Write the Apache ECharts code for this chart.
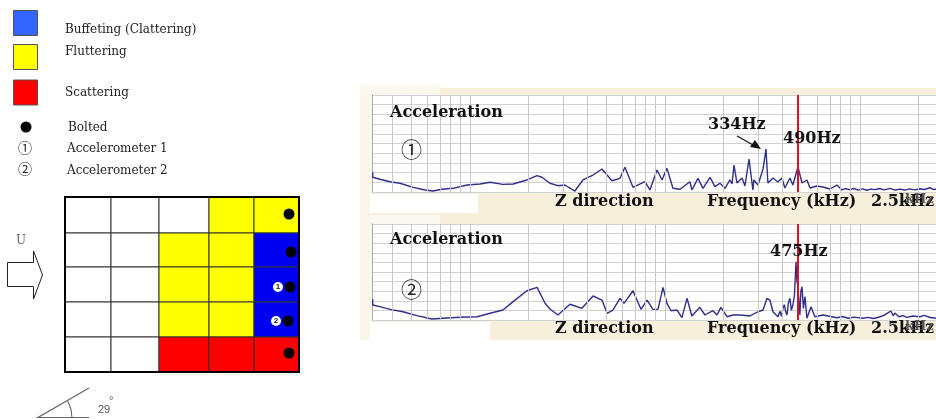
<!DOCTYPE html>
<html>
<head>
<meta charset="utf-8">
<style>
  html, body { margin: 0; padding: 0; background: #fff; }
  #chart { width: 936px; height: 419px; }
</style>
<script src="https://cdn.jsdelivr.net/npm/echarts@6/dist/echarts.min.js"></script>
</head>
<body>
<div id="chart"></div>
<script>
// plate map: cell edges, and state of each cell per row (0 none, 1 fluttering, 2 buffeting, 3 scattering)
const plateCols = [0, 46, 94, 144, 189, 234]
const plateRows = [0, 36, 70, 105, 140, 175]
const plateStates = [
  [0, 0, 0, 1, 1],
  [0, 0, 1, 1, 2],
  [0, 0, 1, 1, 2],
  [0, 0, 1, 1, 2],
  [0, 0, 3, 3, 3]
]
const stateColors = ['#ffffff', '#ffff00', '#0000f0', '#ff0000']
const bolts = [[224, 17], [226, 55], [225, 90], [223, 124], [224, 156]]
const sensors = [[213, 90], [211, 124]]
const sensorNames = ['1', '2']

// spectra: log10(Hz) and acceleration in % of the plot height
const logFreq1 = [0.501, 0.501, 0.538, 0.590, 0.641, 0.708, 0.769, 0.810, 0.856, 0.913, 0.985, 1.051, 1.103, 1.169, 1.221, 1.292, 1.344, 1.369, 1.410, 1.451, 1.487, 1.538, 1.579, 1.631, 1.677, 1.728, 1.769, 1.795, 1.836, 1.897, 1.923, 1.959, 1.985, 2.010, 2.041, 2.077, 2.128, 2.138, 2.169, 2.195, 2.231, 2.256, 2.282, 2.308, 2.333, 2.344, 2.354, 2.369, 2.395, 2.410, 2.431, 2.451, 2.456, 2.477, 2.503, 2.518, 2.528, 2.554, 2.579, 2.600, 2.615, 2.641, 2.656, 2.682, 2.703, 2.728, 2.744, 2.779, 2.810, 2.846, 2.882, 2.908, 2.925, 2.949, 2.970, 2.990, 3.015, 3.035, 3.055, 3.077, 3.100, 3.125, 3.154, 3.180, 3.205, 3.230, 3.256, 3.280, 3.308, 3.330, 3.359, 3.375, 3.390]
const accel1 = [20.3, 15.2, 13.1, 10.6, 9.0, 4.8, 2.1, 1.0, 2.8, 3.8, 7.2, 8.2, 10.0, 7.9, 8.2, 12.4, 16.8, 15.2, 9.0, 6.5, 7.2, 1.0, 12.4, 17.5, 23.7, 11.6, 14.1, 25.5, 4.8, 10.6, 2.1, 22.7, 12.4, 24.4, 3.8, 2.8, 10.6, 2.1, 14.1, 3.8, 15.2, 5.5, 9.0, 3.8, 12.4, 8.2, 27.8, 9.3, 14.4, 6.2, 34.0, 2.1, 12.4, 7.2, 23.7, 44.3, 9.3, 14.4, 10.3, 14.4, 4.1, 14.4, 7.2, 25.8, 9.3, 12.4, 4.1, 6.2, 5.2, 3.1, 7.2, 2.1, 3.4, 2.4, 3.6, 2.0, 3.2, 1.8, 3.0, 2.4, 3.6, 2.2, 3.8, 2.0, 3.0, 2.0, 3.2, 2.2, 3.4, 2.6, 4.4, 2.6, 2.8]
const logFreq2 = [0.501, 0.501, 0.538, 0.590, 0.656, 0.728, 0.805, 0.862, 0.949, 1.036, 1.103, 1.169, 1.221, 1.292, 1.344, 1.385, 1.410, 1.451, 1.513, 1.574, 1.631, 1.677, 1.703, 1.733, 1.769, 1.790, 1.836, 1.877, 1.908, 1.938, 1.964, 1.990, 2.010, 2.031, 2.062, 2.087, 2.113, 2.123, 2.138, 2.179, 2.205, 2.246, 2.267, 2.287, 2.318, 2.349, 2.385, 2.436, 2.477, 2.503, 2.523, 2.538, 2.554, 2.579, 2.590, 2.598, 2.605, 2.612, 2.620, 2.626, 2.633, 2.641, 2.648, 2.656, 2.664, 2.672, 2.677, 2.682, 2.687, 2.692, 2.697, 2.703, 2.710, 2.718, 2.728, 2.749, 2.769, 2.810, 2.882, 2.910, 2.940, 2.970, 3.015, 3.040, 3.070, 3.103, 3.125, 3.145, 3.159, 3.170, 3.179, 3.200, 3.220, 3.241, 3.270, 3.308, 3.330, 3.360, 3.390]
const accel2 = [21.6, 15.6, 13.9, 11.1, 8.6, 4.5, 1.0, 1.8, 2.8, 3.4, 7.0, 10.4, 19.1, 30.5, 34.0, 17.4, 11.5, 5.2, 16.4, 12.2, 25.0, 20.8, 7.0, 10.4, 22.6, 17.4, 30.5, 11.1, 20.8, 11.1, 11.1, 34.0, 17.4, 9.7, 10.4, 2.4, 22.6, 22.6, 4.2, 13.2, 5.2, 9.7, 5.2, 13.2, 3.4, 5.2, 5.2, 4.2, 8.6, 10.4, 22.6, 20.8, 8.6, 3.4, 9.0, 4.0, 12.2, 16.0, 8.0, 5.2, 18.0, 22.6, 10.0, 15.6, 26.0, 60.7, 40.0, 34.7, 20.0, 5.2, 30.0, 34.7, 12.0, 24.3, 1.8, 13.9, 3.4, 5.2, 2.4, 3.6, 1.8, 3.0, 1.8, 2.8, 1.6, 3.4, 5.0, 7.6, 9.4, 4.4, 7.2, 3.4, 4.6, 2.8, 4.2, 3.4, 4.8, 2.6, 1.8]

const gridHz = [4, 5, 6, 7, 8, 9, 10, 20, 30, 40, 50, 60, 70, 80, 90, 100, 200, 300, 400, 600, 700, 800, 900, 1000, 2000]
const cursorHz = 475

const serif = '"DejaVu Serif", serif'
const toPairs = (xs, ys) => xs.map((x, i) => [x, ys[i]])

// 网格线和红色游标用 markLine 画
function freqLines (hzList, color, width) {
  return {
    silent: true,
    symbol: 'none',
    animation: false,
    label: { show: false },
    lineStyle: { color: color, width: width, type: 'solid', opacity: 1 },
    data: hzList.map(hz => ({ xAxis: Math.log10(hz) }))
  }
}

function spectrumSeries (name, axisIndex, pairs) {
  return [
    { name: name + ' grid', type: 'line', xAxisIndex: axisIndex, yAxisIndex: axisIndex, data: [], z: 1, markLine: freqLines(gridHz, '#c8c8c8', 1) },
    {
      name: name,
      type: 'line',
      xAxisIndex: axisIndex,
      yAxisIndex: axisIndex,
      data: pairs,
      showSymbol: false,
      z: 3,
      lineStyle: { color: '#2f2f8c', width: 1.4 }
    },
    { name: name + ' cursor', type: 'line', xAxisIndex: axisIndex, yAxisIndex: axisIndex, data: [], z: 4, markLine: freqLines([cursorHz], '#e01020', 2) }
  ]
}

function label (text, x, y, size, extra) {
  return {
    type: 'text',
    x: x,
    y: y,
    z: 50,
    style: Object.assign({ text: text, fill: '#222', font: size + 'px ' + serif, textVerticalAlign: 'middle' }, extra || {})
  }
}

function swatch (color, y) {
  return { type: 'rect', z: 50, shape: { x: 13.5, y: y, width: 24, height: 25 }, style: { fill: color, stroke: '#555', lineWidth: 1 } }
}

function patch (x, y, w, h, fill) {
  return { type: 'rect', z: -2, shape: { x: x, y: y, width: w, height: h }, style: { fill: fill } }
}

const heavy = { font: 'bold 16px ' + serif, fill: '#111' }

const graphics = [
  // 频谱图背景
  patch(360, 88, 576, 252, '#f6efdc'),
  patch(360, 85, 80, 10, '#fbf8ef'),
  patch(360, 215, 80, 9, '#fbf8ef'),
  patch(360, 95, 12, 245, '#faf6ea'),
  patch(370, 194, 108, 19, '#ffffff'),
  patch(370, 322, 120, 18, '#ffffff'),

  swatch('#3366ff', 10.5),
  swatch('#ffff00', 44.5),
  swatch('#ff0000', 80),
  label('Buffeting (Clattering)', 65, 30, 12),
  label('Fluttering', 65, 52, 12),
  label('Scattering', 65, 93, 12),
  { type: 'circle', z: 50, shape: { cx: 26, cy: 127, r: 5.5 }, style: { fill: '#000' } },
  label('Bolted', 68, 128, 12),
  label('①', 18, 148, 14, { font: '14px "Noto Sans CJK JP"' }),
  label('Accelerometer 1', 67, 149, 12),
  label('②', 18, 169, 14, { font: '14px "Noto Sans CJK JP"' }),
  label('Accelerometer 2', 67, 171, 12),

  // 平板外框
  { type: 'rect', z: 40, shape: { x: 65, y: 197, width: 234, height: 175 }, style: { fill: 'none', stroke: '#000', lineWidth: 2 } },

  // 来流箭头和角度
  label('U', 16, 241, 12, { fill: '#666' }),
  { type: 'polygon', z: 50, shape: { points: [[7.5, 262.5], [33.5, 262.5], [33.5, 251], [42.5, 275], [33.5, 299], [33.5, 286.5], [7.5, 286.5]] }, style: { fill: '#fff', stroke: '#222', lineWidth: 1 } },
  { type: 'polyline', z: 50, shape: { points: [[89, 388], [38, 417.5], [89, 417.5]] }, style: { fill: 'none', stroke: '#666', lineWidth: 1.2 } },
  { type: 'arc', z: 50, shape: { cx: 38, cy: 417.5, r: 34, startAngle: -Math.PI / 6.2, endAngle: 0 }, style: { fill: 'none', stroke: '#555', lineWidth: 1 } },
  label('29', 98, 410, 11, { font: '11px "Liberation Sans"', fill: '#555' }),
  label('°', 109, 401, 11, { font: '11px "Liberation Sans"', fill: '#555' }),

  // 频谱图文字
  label('Acceleration', 390, 113, 16, heavy),
  label('①', 401, 149, 21, { font: '21px "Noto Sans CJK JP"' }),
  label('334Hz', 708, 125, 16, heavy),
  { type: 'line', z: 50, shape: { x1: 737, y1: 136, x2: 755, y2: 146 }, style: { stroke: '#111', lineWidth: 1.2 } },
  { type: 'polygon', z: 50, shape: { points: [[761, 149], [750, 147], [755, 140]] }, style: { fill: '#111' } },
  label('490Hz', 783, 139, 16, heavy),
  label('Z direction', 555, 202, 16, heavy),
  label('Frequency (kHz)', 707, 202, 16, heavy),
  label('2.5kHz', 871, 202, 16, heavy),
  label('kHz', 905, 200, 13, { font: 'bold 13px ' + serif, fill: '#555' }),

  label('Acceleration', 390, 240, 16, heavy),
  label('②', 401, 289, 21, { font: '21px "Noto Sans CJK JP"' }),
  label('475Hz', 770, 252, 16, heavy),
  label('Z direction', 555, 329, 16, heavy),
  label('Frequency (kHz)', 707, 329, 16, heavy),
  label('2.5kHz', 871, 329, 16, heavy),
  label('kHz', 905, 327, 13, { font: 'bold 13px ' + serif, fill: '#555' })
]

function hiddenAxis (type, gridIndex, min, max, inverse) {
  return { type: type, gridIndex: gridIndex, min: min, max: max, inverse: !!inverse, show: false }
}

function spectrumX (gridIndex) {
  return { type: 'value', gridIndex: gridIndex, min: 0.5, max: 3.39, axisLabel: { show: false }, axisTick: { show: false }, axisLine: { show: false }, splitLine: { show: false } }
}

function spectrumY (gridIndex) {
  return {
    type: 'value',
    gridIndex: gridIndex,
    min: 0,
    max: 100,
    interval: 10,
    axisLabel: { show: false },
    axisTick: { show: false },
    axisLine: { show: true, lineStyle: { color: '#aaa', width: 1 } },
    splitLine: { show: true, lineStyle: { color: '#d2d2d2', width: 1 } }
  }
}

const cellData = []
plateStates.forEach((row, r) => row.forEach((state, c) => cellData.push([c, r, state])))

const option = {
  animation: false,
  grid: [
    { left: 65, top: 197, width: 234, height: 175 },
    { left: 372.5, top: 95, width: 563.5, height: 97, show: true, backgroundColor: '#fff', borderWidth: 0 },
    { left: 372.5, top: 224, width: 563.5, height: 96, show: true, backgroundColor: '#fff', borderWidth: 0 }
  ],
  xAxis: [hiddenAxis('value', 0, 0, 234), spectrumX(1), spectrumX(2)],
  yAxis: [hiddenAxis('value', 0, 0, 175, true), spectrumY(1), spectrumY(2)],
  graphic: { elements: graphics },
  series: [
    {
      name: 'Plate',
      type: 'custom',
      xAxisIndex: 0,
      yAxisIndex: 0,
      data: cellData,
      renderItem (params, api) {
        const c = api.value(0)
        const r = api.value(1)
        const p0 = api.coord([plateCols[c], plateRows[r]])
        const p1 = api.coord([plateCols[c + 1], plateRows[r + 1]])
        return {
          type: 'rect',
          shape: { x: p0[0], y: p0[1], width: p1[0] - p0[0], height: p1[1] - p0[1] },
          style: { fill: stateColors[api.value(2)], stroke: '#333', lineWidth: 1 }
        }
      },
      z: 2
    },
    {
      name: 'Bolted',
      type: 'scatter',
      xAxisIndex: 0,
      yAxisIndex: 0,
      data: bolts,
      symbolSize: 11,
      itemStyle: { color: '#000', opacity: 1 },
      z: 5
    },
    {
      name: 'Accelerometer',
      type: 'scatter',
      xAxisIndex: 0,
      yAxisIndex: 0,
      data: sensors,
      symbolSize: 10,
      itemStyle: { color: '#fff', opacity: 1 },
      label: {
        show: true,
        position: 'inside',
        color: '#222',
        fontSize: 8,
        fontWeight: 'bold',
        fontFamily: 'Liberation Sans',
        formatter: p => sensorNames[p.dataIndex]
      },
      z: 5
    }
  ].concat(
    spectrumSeries('Accelerometer 1', 1, toPairs(logFreq1, accel1)),
    spectrumSeries('Accelerometer 2', 2, toPairs(logFreq2, accel2))
  )
}

const chart = echarts.init(document.getElementById('chart'), null, { renderer: 'canvas' })
chart.setOption(option)
</script>
</body>
</html>
